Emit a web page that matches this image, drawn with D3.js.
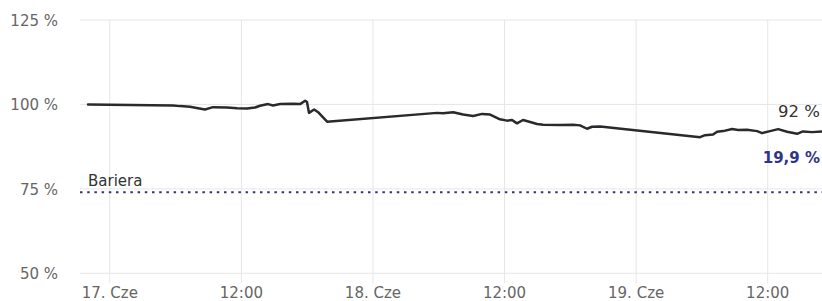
<!DOCTYPE html>
<html>
<head>
<meta charset="utf-8">
<script src="https://cdn.jsdelivr.net/npm/d3@7"></script>
<style>
  body { margin: 0; background: #fff; }
  svg { display: block; font-family: "DejaVu Sans", sans-serif; }
</style>
</head>
<body>
<div id="chart"></div>
<script>
// data
var times = [
  "2024-06-16T22:01", "2024-06-17T05:46", "2024-06-17T06:25", "2024-06-17T07:19", "2024-06-17T08:03",
  "2024-06-17T08:41", "2024-06-17T09:25", "2024-06-17T10:42", "2024-06-17T11:37", "2024-06-17T12:31",
  "2024-06-17T13:15", "2024-06-17T13:42", "2024-06-17T14:26", "2024-06-17T14:53", "2024-06-17T15:32",
  "2024-06-17T16:43", "2024-06-17T17:21", "2024-06-17T17:49", "2024-06-17T17:59", "2024-06-17T18:10",
  "2024-06-17T18:38", "2024-06-17T19:00", "2024-06-17T19:49", "2024-06-18T05:51", "2024-06-18T06:23",
  "2024-06-18T07:19", "2024-06-18T08:13", "2024-06-18T09:08", "2024-06-18T09:57", "2024-06-18T10:41",
  "2024-06-18T11:35", "2024-06-18T12:14", "2024-06-18T12:41", "2024-06-18T13:08", "2024-06-18T13:41",
  "2024-06-18T14:20", "2024-06-18T14:58", "2024-06-18T15:31", "2024-06-18T17:04", "2024-06-18T18:15",
  "2024-06-18T18:53", "2024-06-18T19:31", "2024-06-18T19:59", "2024-06-18T20:43", "2024-06-19T05:50",
  "2024-06-19T06:17", "2024-06-19T07:01", "2024-06-19T07:23", "2024-06-19T07:56", "2024-06-19T08:45",
  "2024-06-19T09:18", "2024-06-19T10:07", "2024-06-19T11:02", "2024-06-19T11:29", "2024-06-19T12:13",
  "2024-06-19T12:57", "2024-06-19T13:46", "2024-06-19T14:41", "2024-06-19T15:13", "2024-06-19T16:02",
  "2024-06-19T16:57"
];
var values = [
  100.0, 99.7, 99.5, 99.3, 98.9,
  98.5, 99.2, 99.1, 98.9, 98.8,
  99.1, 99.6, 100.1, 99.7, 100.1,
  100.2, 100.1, 101.1, 100.7, 97.5,
  98.5, 97.7, 94.9, 97.5, 97.4,
  97.7, 97.0, 96.6, 97.2, 97.0,
  95.6, 95.2, 95.4, 94.4, 95.4,
  94.8, 94.2, 94.0, 93.9, 94.0,
  93.8, 92.8, 93.4, 93.5, 90.3,
  90.9, 91.1, 91.9, 92.1, 92.7,
  92.4, 92.5, 92.1, 91.5, 92.1,
  92.7, 91.9, 91.3, 92.0, 91.8,
  92.0
];
var yTicks = [50, 75, 100, 125];
var xTicks = ["2024-06-17T00:00", "2024-06-17T12:00", "2024-06-18T00:00", "2024-06-18T12:00", "2024-06-19T00:00", "2024-06-19T12:00"];
var xTickLabels = ["17. Cze", "12:00", "18. Cze", "12:00", "19. Cze", "12:00"];
var xDomain = ["2024-06-16T21:17", "2024-06-19T16:57"];
var barrier = 74;
var barrierLabel = "Bariera";
var lastLabel = "92 %";
var distLabel = "19,9 %";

var W = 822, H = 301;
var plotL = 80, plotR = 822, plotT = 20, plotB = 273.3;

var parse = d3.utcParse("%Y-%m-%dT%H:%M");
var data = times.map(function (t, i) { return { t: parse(t), v: values[i] }; });

var svg = d3.select("#chart").append("svg")
  .attr("width", W).attr("height", H);

var x = d3.scaleUtc()
  .domain(xDomain.map(parse))
  .range([plotL, plotR]);

var y = d3.scaleLinear()
  .domain([50, 125])
  .range([plotB, plotT]);

// horizontal grid + y labels
svg.append("g").selectAll("line")
  .data(yTicks).enter().append("line")
  .attr("x1", plotL).attr("x2", plotR)
  .attr("y1", function (d) { return y(d); })
  .attr("y2", function (d) { return y(d); })
  .attr("stroke", "#e6e6e6").attr("stroke-width", 1);

svg.append("g").selectAll("text")
  .data(yTicks).enter().append("text")
  .attr("x", 58)
  .attr("y", function (d) { return y(d) + 5.8; })
  .attr("text-anchor", "end")
  .attr("font-size", "15px")
  .attr("fill", "#666666")
  .text(function (d) { return d + " %"; });

// vertical grid + x labels
svg.append("g").selectAll("line")
  .data(xTicks).enter().append("line")
  .attr("x1", function (d) { return x(parse(d)); })
  .attr("x2", function (d) { return x(parse(d)); })
  .attr("y1", plotT).attr("y2", plotB + 10)
  .attr("stroke", "#e6e6e6").attr("stroke-width", 1);

svg.append("g").selectAll("text")
  .data(xTicks).enter().append("text")
  .attr("x", function (d) { return x(parse(d)); })
  .attr("y", 298)
  .attr("text-anchor", "middle")
  .attr("font-size", "15px")
  .attr("fill", "#666666")
  .text(function (d, i) { return xTickLabels[i]; });

// barrier
svg.append("line")
  .attr("x1", plotL).attr("x2", plotR)
  .attr("y1", y(barrier)).attr("y2", y(barrier))
  .attr("stroke", "#2e3587")
  .attr("stroke-width", 2)
  .attr("stroke-dasharray", "2.5,4.7");

svg.append("text")
  .attr("x", 88).attr("y", y(barrier) - 6.5)
  .attr("font-size", "15px")
  .attr("fill", "#333333")
  .text(barrierLabel);

// series
var line = d3.line()
  .x(function (d) { return x(d.t); })
  .y(function (d) { return y(d.v); });

svg.append("path")
  .datum(data)
  .attr("d", line)
  .attr("fill", "none")
  .attr("stroke", "#2a2a2e")
  .attr("stroke-width", 2.5)
  .attr("stroke-linejoin", "round")
  .attr("stroke-linecap", "round");

svg.append("text")
  .attr("x", 820).attr("y", 117.3)
  .attr("text-anchor", "end")
  .attr("font-size", "16.5px")
  .attr("fill", "#333333")
  .text(lastLabel);

svg.append("text")
  .attr("x", 820).attr("y", 162.7)
  .attr("text-anchor", "end")
  .attr("font-size", "15px")
  .attr("font-weight", "bold")
  .attr("fill", "#2e3587")
  .text(distLabel);
</script>
</body>
</html>
